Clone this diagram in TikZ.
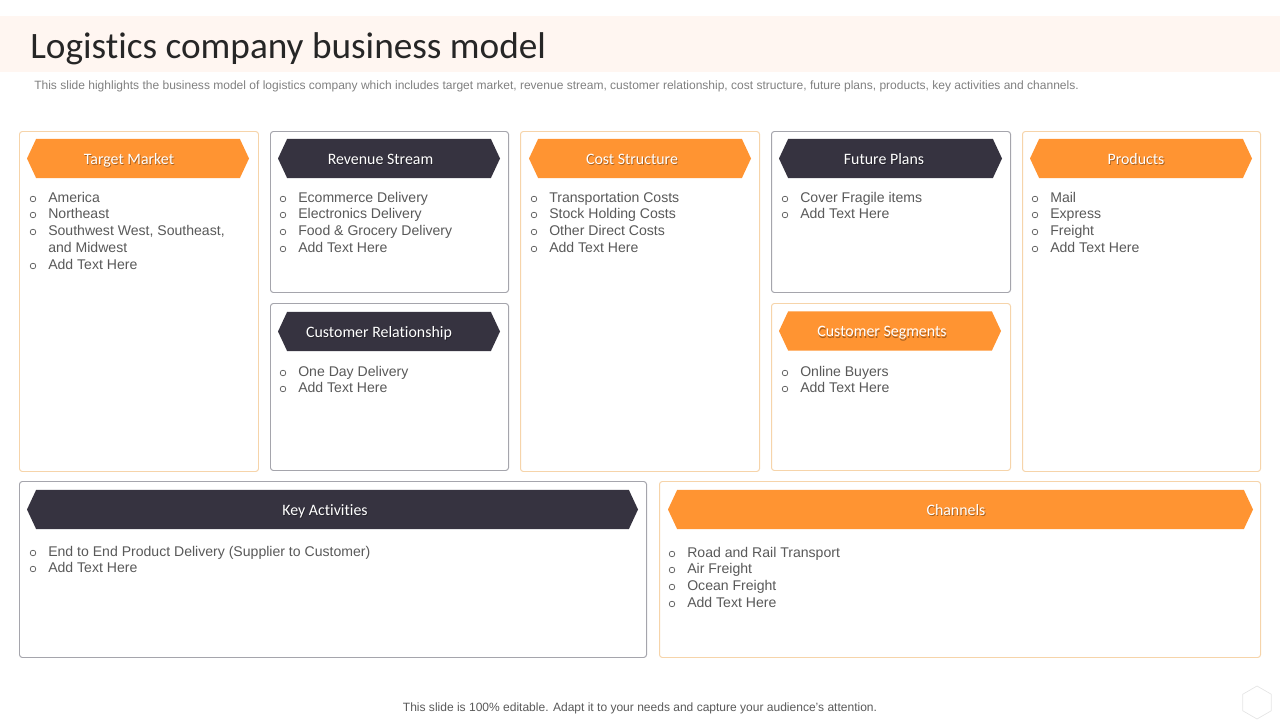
\documentclass[tikz,border=0pt]{standalone}
\usepackage{fontspec}
\usepackage{xcolor}
\usetikzlibrary{shapes,positioning}
\setmainfont{Liberation Sans}
\newfontfamily\headfont[Ligatures=NoCommon]{Carlito}
\definecolor{lcborange}{RGB}{255,148,50}
\definecolor{lcbdark}{RGB}{54,51,64}
\definecolor{lcbpeach}{RGB}{246,212,170}
\definecolor{lcbgrey}{RGB}{165,165,172}
\definecolor{lcbband}{RGB}{255,246,241}
\definecolor{lcbtext}{RGB}{89,89,89}
\tikzset{
    panelbox/.style={rectangle, rounded corners=2pt, line width=0.7pt, fill=white},
    panelpeach/.style={panelbox, draw=lcbpeach},
    panelgrey/.style={panelbox, draw=lcbgrey},
    bannerbox/.style={signal, signal to=west and east, signal pointer angle=130, inner sep=0pt, minimum height=0.975cm},
    bannertext/.style={font=\headfont\fontsize{11.3}{13}\selectfont, text=white, anchor=base},
    bannershade/.style={font=\headfont\fontsize{11.3}{13}\selectfont, text=black, opacity=0.35, anchor=base},
    itemtext/.style={font=\fontsize{10}{12}\selectfont, text=lcbtext, anchor=base west, inner sep=0pt},
    itemdot/.style={circle, draw=lcbtext, line width=0.5pt, inner sep=0pt, minimum size=0.14cm}
}
\begin{document}
\begin{tikzpicture}[x=0.025cm,y=-0.025cm]
    \useasboundingbox (0,0) rectangle (1280,720);

    % Title band
    \fill[lcbband] (0,16) rectangle (1280,72);
    \node[anchor=base west, inner sep=0pt, font=\headfont\fontsize{26.5}{30}\selectfont, text=black!85] (title) at (30,58.5) {Logistics company business model};
    \node[anchor=base west, inner sep=0pt, font=\fontsize{8.55}{10}\selectfont, text=black!50] (subtitle) at (34,89.5) {This slide highlights the business model of logistics company which includes target market, revenue stream, customer relationship, cost structure, future plans, products, key activities and channels.};

    % Panels
    \foreach \xa/\ya/\xb/\yb/\kind in {19/131/259/472/panelpeach,270/131/509/293/panelgrey,270/303/509/471/panelgrey,520/131/760/472/panelpeach,771/131/1011/293/panelgrey,771/303/1011/471/panelpeach,1022/131/1261/472/panelpeach,19/481/647/658/panelgrey,659/481/1261/658/panelpeach} {
        \draw[\kind] (\xa+0.5,\ya+0.5) rectangle (\xb-0.5,\yb-0.5);
    }

    % Banners
    \foreach \name/\x/\y/\w/\col/\tx/\txt in {market/138/158.5/222/lcborange/129/Target Market,revenue/389/158.5/222/lcbdark/380.5/Revenue Stream,relation/389/331.5/222/lcbdark/379/Customer Relationship,cost/640/158.5/222/lcborange/632/Cost Structure,future/890.5/158.5/223/lcbdark/884/Future Plans,segment/890/331/222/lcborange/882/Customer Segments,product/1141/158.5/222/lcborange/1136/Products,activity/332.5/509.5/611/lcbdark/325/Key Activities,channel/960.5/509.5/585/lcborange/956/Channels} {
        \node[bannerbox, fill=\col, minimum width=\w*0.025cm] (\name-bar) at (\x,\y) {};
        \node[bannershade] (\name-shade) at (\tx+0.8,\y+7.1) {\txt};
        \node[bannertext] (\name-label) at (\tx,\y+5.8) {\txt};
    }

    % Lists
    \foreach \x/\y/\txt [count=\i] in {48/202.5/America,48/218.5/Northeast,48/235.5/{Southwest West, Southeast,},48/269.5/Add Text Here,
        298/202.5/Ecommerce Delivery,298/218.5/Electronics Delivery,298/235.5/Food \& Grocery Delivery,298/252.5/Add Text Here,
        298/376.5/One Day Delivery,298/392.5/Add Text Here,
        549/202.5/Transportation Costs,549/218.5/Stock Holding Costs,549/235.5/Other Direct Costs,549/252.5/Add Text Here,
        800/202.5/Cover Fragile items,800/218.5/Add Text Here,
        800/376.5/Online Buyers,800/392.5/Add Text Here,
        1050/202.5/Mail,1050/218.5/Express,1050/235.5/Freight,1050/252.5/Add Text Here,
        48/556.5/End to End Product Delivery (Supplier to Customer),48/572.5/Add Text Here,
        687/557.5/Road and Rail Transport,687/573.5/Air Freight,687/590.5/Ocean Freight,687/607.5/Add Text Here} {
        \node[itemtext] (item\i) at (\x,\y) {\txt};
        \node[itemdot] (dot\i) at (\x-15,\y-3.5) {};
    }
    \node[itemtext] (itemextra) at (48,252.5) {and Midwest};

    % Footer
    \node[font=\fontsize{8.55}{10}\selectfont, text=lcbtext, inner sep=0pt] (footer) at (640,708) {This slide is 100\% editable. Adapt it to your needs and capture your audience's attention.};
    \node[regular polygon, regular polygon sides=6, shape border rotate=30, draw=black!10, line width=0.5pt, inner sep=0pt, minimum size=33*0.025cm] (badge) at (1257,702.5) {};
\end{tikzpicture}
\end{document}
